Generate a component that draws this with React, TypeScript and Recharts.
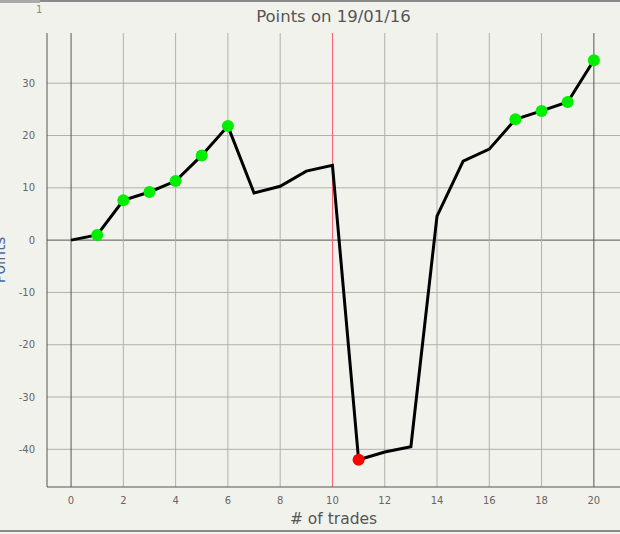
import { LineChart, Line, XAxis, YAxis, ReferenceLine } from "recharts";

const trades = [0, 1, 2, 3, 4, 5, 6, 7, 8, 9, 10, 11, 12, 13, 14, 15, 16, 17, 18, 19, 20];
const points = [0, 1, 7.6, 9.2, 11.3, 16.2, 21.8, 9, 10.3, 13.2, 14.3, -42, -40.5, -39.5, 4.6, 15.1, 17.4, 23.1, 24.7, 26.4, 34.4];
const highs = [1, 2, 3, 4, 5, 6, 17, 18, 19, 20];
const lows = [11];
const xTicks = [0, 2, 4, 6, 8, 10, 12, 14, 16, 18, 20];
const yTicks = [-40, -30, -20, -10, 0, 10, 20, 30];
const darkX = [0, 20];
const markerX = 10;

const data = trades.map((t, i) => ({ t, p: points[i] }));

const font = "DejaVu Sans, Verdana, sans-serif";

function Dot(props: any) {
    const { cx, cy, payload } = props;
    if (highs.includes(payload.t)) return <circle key={payload.t} cx={cx} cy={cy} r={6} fill="#00ee00" />;
    if (lows.includes(payload.t)) return <circle key={payload.t} cx={cx} cy={cy} r={6} fill="#ff0000" />;
    return <g key={payload.t} />;
}

export default function App() {
    return <div style={{ position: "absolute", left: 0, top: 0, width: 620, height: 534, background: "#f2f2ed", fontFamily: font, overflow: "hidden" }}>
        <div style={{ position: "absolute", left: 0, top: 0, width: 620, height: 2, background: "#8a8a8a" }} />
        <div style={{ position: "absolute", left: 0, top: 0, width: 40, height: 3, background: "#aaa" }} />
        <div style={{ position: "absolute", left: 0, top: 530, width: 620, height: 2, background: "#8a8a8a" }} />
        <div style={{ position: "absolute", left: 36, top: 4, fontSize: 10, color: "#888" }}>1</div>
        <div style={{ position: "absolute", left: 47, width: 573, top: 7, textAlign: "center", fontSize: 16.5, color: "#555" }}>Points on 19/01/16</div>
        <div style={{ position: "absolute", left: 47, width: 573, top: 510, textAlign: "center", fontSize: 15.5, color: "#555" }}># of trades</div>
        <div style={{ position: "absolute", left: -26, top: 251, width: 52, textAlign: "center", fontSize: 15.5, color: "#4a6b9a", transform: "rotate(-90deg)" }}>Points</div>
        <LineChart width={620} height={534} data={data} margin={{ top: 33, right: 0, left: 0, bottom: 0 }}
            accessibilityLayer={false} style={{ outline: "none" }}>
            <XAxis dataKey="t" type="number" domain={[-0.92, 21]} ticks={xTicks} allowDataOverflow height={47}
                axisLine={{ stroke: "#555" }} tickLine={false} tick={{ fill: "#666", fontSize: 10, fontFamily: font }} tickMargin={4} />
            <YAxis type="number" domain={[-47.2, 39.6]} ticks={yTicks} allowDataOverflow width={47}
                axisLine={{ stroke: "#555" }} tickLine={false} tick={{ fill: "#666", fontSize: 10, fontFamily: font }} tickMargin={6} />
            {yTicks.map(v => <ReferenceLine key={"y" + v} y={v} stroke={v === 0 ? "#555" : "#b0b0ac"} />)}
            {xTicks.map(v => <ReferenceLine key={"x" + v} x={v}
                stroke={v === markerX ? "#ff5a6e" : darkX.includes(v) ? "#555" : "#b0b0ac"} />)}
            <Line dataKey="p" stroke="#000" strokeWidth={3} dot={<Dot />} activeDot={false} isAnimationActive={false} />
        </LineChart>
    </div>
}
